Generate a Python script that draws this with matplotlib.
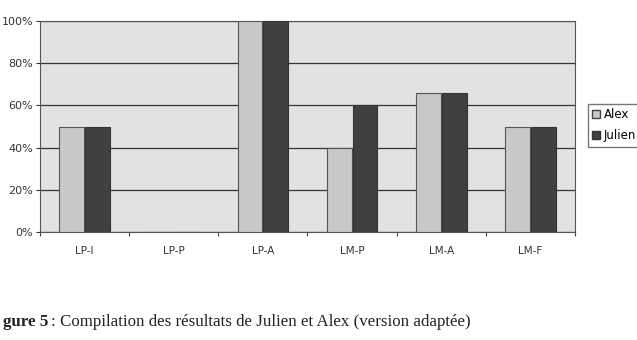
import numpy as np
import matplotlib.pyplot as plt
from matplotlib.patches import Patch
from matplotlib.ticker import FuncFormatter

categories = ['LP-I', 'LP-P', 'LP-A', 'LM-P', 'LM-A', 'LM-F']
alex = [50, 0, 100, 40, 66, 50]
julien = [50, 0, 100, 60, 66, 50]

fig = plt.figure(figsize=(6.37, 3.40), dpi=100)
ax = fig.add_axes([40/637, 108/340, 535/637, 211/340])
ax.set_facecolor('#e2e2e2')

x = np.arange(len(categories))
w = 0.28
ax.bar(x - 0.145, alex, w, color='#c8c8c8', edgecolor='#555555', linewidth=0.8, zorder=3)
ax.bar(x + 0.145, julien, w, color='#404040', edgecolor='#333333', linewidth=0.8, zorder=3)

ax.set_xlim(-0.5, len(categories) - 0.5)
ax.set_ylim(0, 100)
ax.set_yticks([0, 20, 40, 60, 80, 100])
ax.yaxis.set_major_formatter(FuncFormatter(lambda v, p: '%d%%' % v))
ax.set_xticks(np.arange(-0.5, len(categories), 1.0))
ax.set_xticklabels([])
ax.set_xticks(x, minor=True)
ax.set_xticklabels(categories, minor=True)
ax.tick_params(axis='x', which='minor', length=0, labelsize=7.5, colors='#333333', pad=10)
ax.tick_params(axis='x', which='major', length=3, color='#444444')
ax.tick_params(axis='y', length=3, labelsize=8, colors='#333333', pad=2)
ax.yaxis.grid(True, color='#333333', linewidth=0.9, zorder=1)
for s in ax.spines.values():
    s.set_color('#555555')
    s.set_linewidth(0.8)

handles = [Patch(facecolor='#c8c8c8', edgecolor='#444444', label='Alex'),
           Patch(facecolor='#404040', edgecolor='#333333', label='Julien')]
fig.legend(handles=handles, loc='upper left', bbox_to_anchor=(588/637, 1 - 104/340),
           fontsize=8.5, frameon=True, fancybox=False, edgecolor='#555555',
           handlelength=0.7, handleheight=0.7, handletextpad=0.3,
           borderpad=0.35, labelspacing=0.7, borderaxespad=0)

# caption is cropped on the left in the source scan
fig.text(48/637, 1 - 322/340, 'gure 5', fontfamily='Liberation Serif', fontweight='bold',
         fontsize=12.2, va='center', ha='right', color='#222222')
fig.text(51/637, 1 - 322/340, ': Compilation des résultats de Julien et Alex (version adaptée)',
         fontfamily='Liberation Serif', fontsize=12.2, va='center', color='#222222')

fig.savefig('out.png', dpi=100)
